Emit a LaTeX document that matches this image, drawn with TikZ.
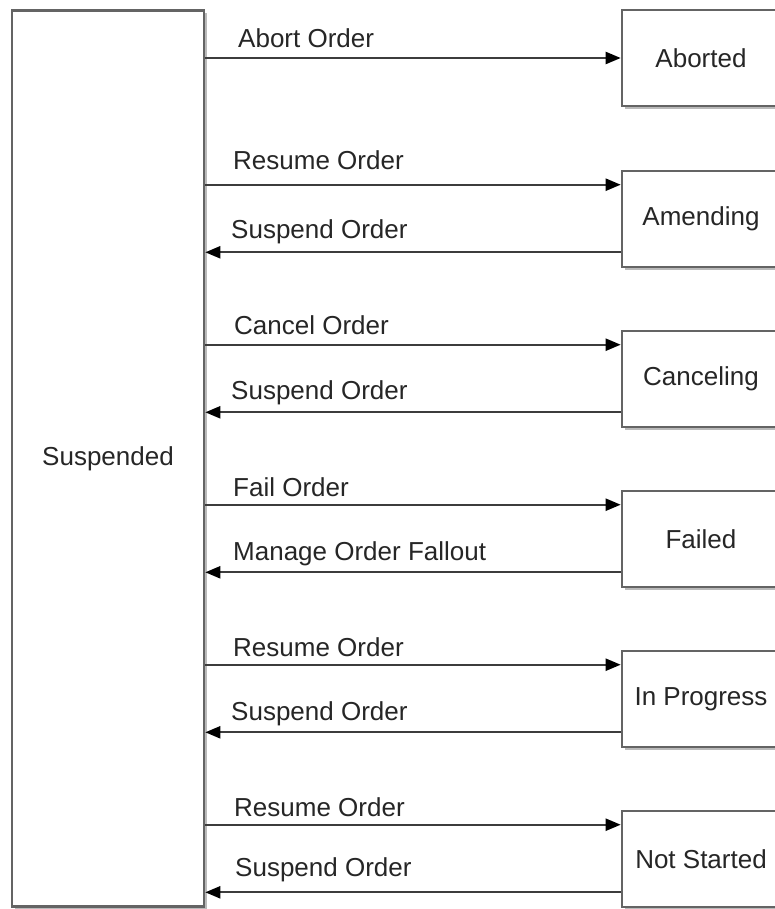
\documentclass[tikz,border=0pt]{standalone}
\usepackage{fontspec}
\setmainfont{Liberation Sans}
\usetikzlibrary{arrows.meta,shadows}
\definecolor{boxgray}{HTML}{646464}
\definecolor{linegray}{HTML}{3C3C3C}
\definecolor{txt}{HTML}{262626}
\begin{document}
\begin{tikzpicture}[x=1pt,y=-1pt,
  box/.style={draw=boxgray, line width=2.6pt, fill=white, rectangle, inner sep=0pt,
    text=txt, font=\fontsize{26}{30}\selectfont,
    drop shadow={shadow xshift=3pt, shadow yshift=-3pt, fill=black!45, opacity=0.6}},
  state/.style={box, minimum width=158pt, minimum height=96pt},
  conn/.style={draw=linegray, line width=2.2pt, -{Triangle[length=15pt 0 0,width=12pt 0 0,color=black,fill=black]}},
  lbl/.style={anchor=base west, inner sep=0pt, text=txt, font=\fontsize{26}{30}\selectfont}]
\useasboundingbox (0,0) rectangle (774,909);
\fill[white] (0,0) rectangle (774,909);
\node[box, minimum width=192pt, minimum height=896pt] (susp) at (108,458.5) {Suspended};
\node[state] (ab) at (701,58) {Aborted};
\node[state] (am) at (701,219) {Amending};
\node[state] (ca) at (701,379) {Canceling};
\node[state] (fa) at (701,539) {Failed};
\node[state] (ip) at (701,699) {In Progress};
\node[state] (ns) at (701,859) {Not Started};
% Aborted
\draw[conn] (susp.east |- ab.west) -- (ab.west);
\node[lbl] (l0) at (238,48) {Abort Order};
% pairs
\foreach \b/\fwd/\fy/\fx/\back/\by/\bx in {
  am/Resume Order/170/233/Suspend Order/239/231,
  ca/Cancel Order/334/234/Suspend Order/399/231,
  fa/Fail Order/496/233/Manage Order Fallout/560/233,
  ip/Resume Order/656/233/Suspend Order/720/231,
  ns/Resume Order/816/234/Suspend Order/876/235}{
  \coordinate (\b in) at ([yshift=-15pt]\b.north west);
  \coordinate (\b out) at ([yshift=16pt]\b.south west);
  \draw[conn] (susp.east |- \b in) -- (\b in);
  \draw[conn] (\b out) -- (susp.east |- \b out);
  \node[lbl] (f\b) at (\fx,\fy) {\fwd};
  \node[lbl] (r\b) at (\bx,\by) {\back};
}
\end{tikzpicture}
\end{document}
